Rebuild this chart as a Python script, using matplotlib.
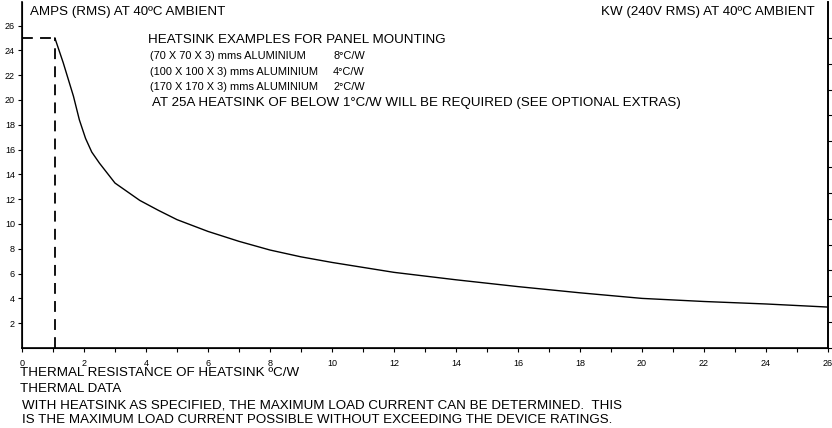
import matplotlib
matplotlib.use("Agg")
import matplotlib.pyplot as plt
from matplotlib.ticker import MultipleLocator

plt.rcParams["font.family"] = ["Liberation Sans", "DejaVu Sans"]

# thermal resistance (C/W) vs max current (A rms)
resistance = [1.06, 1.33, 1.66, 1.85, 2.05, 2.25, 2.5, 3.0, 3.8, 4.4, 5.0, 6.0,
              7.0, 8.0, 9.0, 10.0, 12.0, 14.0, 16.0, 18.0, 20.0, 22.0, 24.0, 26.0]
current = [25.0, 23.0, 20.3, 18.4, 16.9, 15.8, 14.9, 13.3, 11.9, 11.1, 10.35, 9.4,
           8.6, 7.9, 7.35, 6.9, 6.1, 5.5, 4.95, 4.45, 4.0, 3.75, 3.55, 3.3]

limit_r = 1.06
limit_a = 25.0

x_ticks = list(range(0, 27, 2))
y_ticks = list(range(2, 27, 2))
kw_ticks = [i * 0.5 for i in range(13)]

example_rows = [
    ("(70 X 70 X 3) mms ALUMINIUM", "8°C/W"),
    ("(100 X 100 X 3) mms ALUMINIUM", "4°C/W"),
    ("(170 X 170 X 3) mms ALUMINIUM", "2°C/W"),
]

W, H = 832, 428
fig = plt.figure(figsize=(W / 100, H / 100), dpi=100)
ax = fig.add_axes([22 / W, 80 / H, 806 / W, 346 / H])

ymax = 27.9
ax.plot(resistance, current, color="black", lw=1.0)
ax.plot([0, limit_r], [limit_a, limit_a], color="black", lw=1.3,
        dashes=(6, 4))
ax.plot([limit_r, limit_r], [0, limit_a], color="black", lw=1.3,
        dashes=(6, 4))

ax.set_xlim(0, 26)
ax.set_ylim(0, ymax)
ax.set_xticks(x_ticks)
ax.xaxis.set_minor_locator(MultipleLocator(1))
ax.set_yticks(y_ticks)
ax.tick_params(axis="both", which="both", direction="out", length=3,
               width=0.8, labelsize=6.5, pad=2)
ax.tick_params(axis="x", pad=5)
ax.spines["top"].set_visible(False)
for s in ["left", "bottom", "right"]:
    ax.spines[s].set_linewidth(1.2)

# kW scale on the right
ax2 = ax.twinx()
ax2.set_ylim(0, ymax * 240 / 1000)
ax2.set_yticks(kw_ticks)
ax2.tick_params(axis="y", direction="out", length=3, width=0.8,
                labelright=False)
ax2.spines["top"].set_visible(False)
ax2.spines["right"].set_linewidth(1.2)

fs = 9.6
fig.text(30 / W, 1 - 12 / H, "AMPS (RMS) AT 40ºC AMBIENT", fontsize=fs,
         va="center")
fig.text(815 / W, 1 - 12 / H, "KW (240V RMS) AT 40ºC AMBIENT", fontsize=fs,
         va="center", ha="right")

fig.text(148 / W, 1 - 40 / H, "HEATSINK EXAMPLES FOR PANEL MOUNTING",
         fontsize=fs, va="center")
narrow = ["Liberation Sans Narrow", "Liberation Sans"]
for i, (name, rating) in enumerate(example_rows):
    yy = 1 - (56 + i * 15.7) / H
    fig.text(150 / W, yy, name, fontsize=7.9, va="center", family=narrow)
    fig.text(333 / W, yy, rating, fontsize=7.9, va="center", family=narrow)
fig.text(152 / W, 1 - 103 / H,
         "AT 25A HEATSINK OF BELOW 1°C/W WILL BE REQUIRED (SEE OPTIONAL EXTRAS)",
         fontsize=fs, va="center")

fig.text(20 / W, 1 - 373 / H, "THERMAL RESISTANCE OF HEATSINK ºC/W",
         fontsize=fs, va="center")
fig.text(20 / W, 1 - 389 / H, "THERMAL DATA", fontsize=fs, va="center")
fig.text(22 / W, 1 - 405 / H,
         "WITH HEATSINK AS SPECIFIED, THE MAXIMUM LOAD CURRENT CAN BE DETERMINED.  THIS",
         fontsize=fs, va="center")
fig.text(22 / W, 1 - 420 / H,
         "IS THE MAXIMUM LOAD CURRENT POSSIBLE WITHOUT EXCEEDING THE DEVICE RATINGS.",
         fontsize=fs, va="center")

fig.savefig("out.png", dpi=100)
